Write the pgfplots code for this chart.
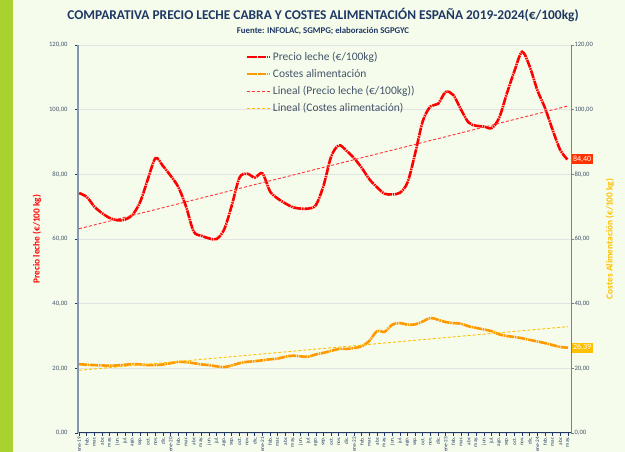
\documentclass[border=0pt]{standalone}
\usepackage{pgfplots}
\usepackage{pgfplotstable}
\pgfplotsset{compat=1.18}
\usetikzlibrary{backgrounds,calc}
\usepackage{fontspec}
\setmainfont{Carlito}
\definecolor{bg}{RGB}{245,252,236}
\definecolor{greenbar}{RGB}{168,210,46}
\definecolor{navy}{RGB}{31,56,100}
\definecolor{ticktxt}{RGB}{68,84,106}
\definecolor{leftaxis}{RGB}{132,151,176}
\definecolor{leche}{RGB}{255,0,0}
\definecolor{costes}{RGB}{255,153,0}
\definecolor{gold}{RGB}{255,192,0}
\definecolor{labred}{RGB}{255,51,0}

\pgfplotstableread{
x leche costes
0 74.2 21.3
1 73.0 21.1
2 70.0 21.0
3 68.0 20.9
4 66.5 20.8
5 65.8 20.9
6 66.0 21.1
7 67.5 21.3
8 71.5 21.2
9 78.5 21.0
10 85.0 21.0
11 82.5 21.2
12 79.5 21.6
13 76.0 22.0
14 70.0 21.9
15 62.3 21.6
16 61.0 21.2
17 60.2 21.0
18 60.0 20.6
19 63.0 20.4
20 70.5 20.9
21 79.0 21.6
22 80.2 22.0
23 79.0 22.2
24 80.3 22.5
25 74.7 22.8
26 72.5 23.0
27 71.0 23.6
28 69.8 23.9
29 69.4 23.7
30 69.4 23.6
31 70.5 24.3
32 76.5 24.8
33 85.5 25.4
34 89.0 26.0
35 87.3 26.0
36 85.0 26.3
37 82.0 26.8
38 78.5 28.5
39 76.0 31.5
40 74.0 31.3
41 73.8 33.5
42 74.3 34.0
43 77.5 33.5
44 86.5 33.6
45 96.5 34.5
46 101.0 35.6
47 101.8 35.0
48 105.5 34.3
49 104.5 34.0
50 100.0 33.8
51 96.0 33.0
52 95.0 32.5
53 94.8 32.0
54 94.3 31.5
55 97.5 30.5
56 105.0 30.0
57 112.0 29.7
58 117.9 29.3
59 113.3 28.8
60 106.0 28.3
61 100.5 27.8
62 93.7 27.2
63 87.5 26.6
64 84.4 26.39
}\datatable

\begin{document}
\begin{tikzpicture}
\begin{axis}[
  scale only axis,
  width=493pt, height=388pt,
  xmin=-0.15, xmax=64.4, ymin=0, ymax=120,
  axis x line*=bottom, axis y line*=left,
  x axis line style={draw=navy, line width=1pt, -},
  y axis line style={draw=leftaxis, line width=1.6pt, -},
  xtick={0,...,64},
  xticklabels={ene-19,feb.,mar.,abr.,may.,jun.,jul.,ago.,sep.,oct.,nov.,dic.,
    ene-20,feb.,mar.,abr.,may.,jun.,jul.,ago.,sep.,oct.,nov.,dic.,
    ene-21,feb.,mar.,abr.,may.,jun.,jul.,ago.,sep.,oct.,nov.,dic.,
    ene-22,feb.,mar.,abr.,may.,jun.,jul.,ago.,sep.,oct.,nov.,dic.,
    ene-23,feb.,mar.,abr.,may.,jun.,jul.,ago.,sep.,oct.,nov.,dic.,
    ene-24,feb.,mar.,abr.,may.},
  xticklabel style={rotate=90, anchor=east, font=\fontsize{5.2}{6}\selectfont, text=navy, inner sep=1pt},
  x tick style={navy, line width=0.8pt},
  tick align=outside, major tick length=3pt,
  ytick={0,20,...,120},
  yticklabel={\pgfmathprintnumber[fixed,fixed zerofill,precision=2,use comma,assume math mode=true]{\tick}},
  yticklabel style={font=\fontsize{6.6}{8}\selectfont, text=ticktxt, xshift=-4pt},
  y tick style={navy, line width=0.8pt},
  ymajorgrids, grid style={black!11, line width=0.7pt},
  ylabel={Precio leche (€/100 kg)},
  ylabel style={at={(axis description cs:-0.083,0.5)}, anchor=center, font=\bfseries\fontsize{9.3}{10}\selectfont, text=leche},
  clip mode=individual,
  legend style={at={(axis description cs:0.339,0.988)}, anchor=north west, draw=none, fill=none,
    font=\fontsize{11.5}{13}\selectfont, text=ticktxt, row sep=3.4pt, inner sep=0pt},
  legend cell align=left,
  legend image code/.code={\draw[#1] (0pt,0pt) -- (23pt,0pt);},
]
\coordinate (ll) at (rel axis cs:0,0);
\addplot[leche, line width=2.6pt, smooth, tension=0.5, dash pattern=on 8pt off 0.8pt on 1.5pt off 0.8pt] table[x=x, y=leche] {\datatable};
\addlegendentry{Precio leche (€/100kg)}
\addplot[costes, line width=2.6pt, smooth, tension=0.5, dash pattern=on 8pt off 0.8pt on 1.5pt off 0.8pt] table[x=x, y=costes] {\datatable};
\addlegendentry{Costes alimentación}
\addplot[leche!80, line width=0.9pt, dash pattern=on 3pt off 2pt] table[x=x, y={create col/linear regression={y=leche}}] {\datatable};
\addlegendentry{Lineal (Precio leche (€/100kg))}
\addplot[gold, line width=0.9pt, dash pattern=on 3pt off 2pt] table[x=x, y={create col/linear regression={y=costes}}] {\datatable};
\addlegendentry{Lineal (Costes alimentación)}
\node[fill=labred, text=white, anchor=west, inner sep=1.8pt, font=\fontsize{8}{9}\selectfont] at (axis cs:64.4,84.6) {84,40};
\node[fill=gold, text=white, anchor=west, inner sep=1.8pt, font=\fontsize{8}{9}\selectfont] at (axis cs:64.4,26.4) {26,39};
\end{axis}

\begin{axis}[
  at={(ll)}, anchor=south west,
  scale only axis,
  width=493pt, height=388pt,
  xmin=-0.15, xmax=64.4, ymin=0, ymax=120,
  axis x line=none, axis y line*=right,
  y axis line style={draw=black!50, line width=0.8pt, -},
  ytick={0,20,...,120},
  tick align=outside, major tick length=3pt,
  y tick style={black!50, line width=0.6pt},
  yticklabel={\pgfmathprintnumber[fixed,fixed zerofill,precision=2,use comma,assume math mode=true]{\tick}},
  yticklabel style={font=\fontsize{6.6}{8}\selectfont, text=ticktxt, xshift=-3pt},
  ylabel={Costes Alimentación (€/100 kg)},
  ylabel style={at={(axis description cs:1.079,0.5)}, anchor=center, font=\bfseries\fontsize{9.3}{10}\selectfont, text=gold},
]
\addplot[draw=none] coordinates {(0,0)};
\end{axis}

\begin{scope}[on background layer]
\fill[bg] ($(ll)+(-78pt,-19pt)$) rectangle ++(625pt,452pt);
\fill[greenbar] ($(ll)+(-78pt,-19pt)$) rectangle ++(13pt,452pt);
\end{scope}
\node[font=\bfseries\fontsize{13.4}{15}\selectfont, text=navy] at ($(ll)+(245pt,418pt)$) {COMPARATIVA PRECIO LECHE CABRA Y COSTES ALIMENTACIÓN ESPAÑA 2019-2024(€/100kg)};
\node[font=\bfseries\fontsize{8.8}{10}\selectfont, text=navy] at ($(ll)+(245pt,402pt)$) {Fuente: INFOLAC, SGMPG; elaboración SGPGYC};
\pgfresetboundingbox
\path[use as bounding box] ($(ll)+(-78pt,-19pt)$) rectangle ++(625pt,452pt);
\end{tikzpicture}
\end{document}
